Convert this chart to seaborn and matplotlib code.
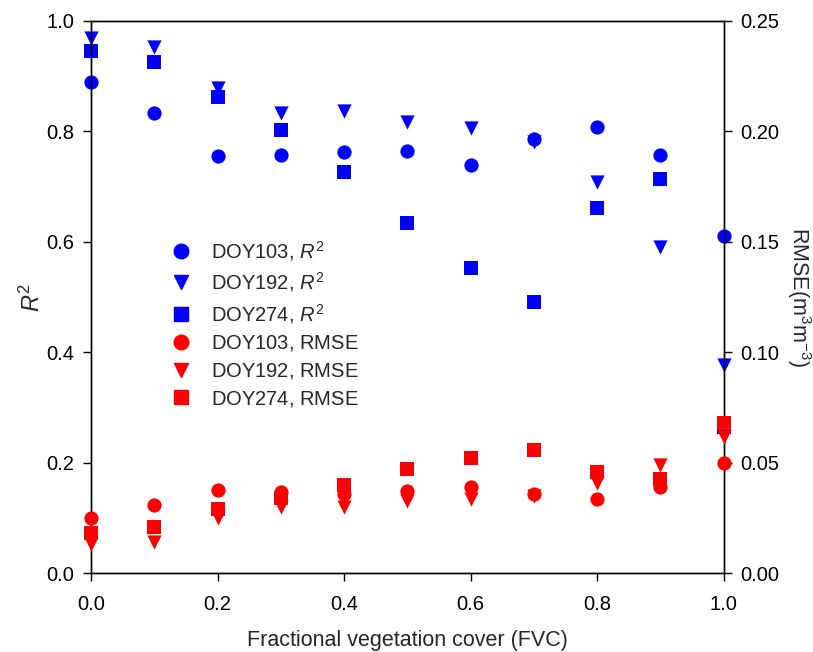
import matplotlib
matplotlib.use("Agg")
import matplotlib.pyplot as plt
import seaborn as sns
import pandas as pd
from matplotlib.lines import Line2D

fvc = [0.0, 0.1, 0.2, 0.3, 0.4, 0.5, 0.6, 0.7, 0.8, 0.9, 1.0]

r2_doy103 = [0.889, 0.833, 0.755, 0.757, 0.763, 0.764, 0.739, 0.786, 0.808, 0.757, 0.610]
r2_doy192 = [0.969, 0.953, 0.879, 0.833, 0.837, 0.817, 0.806, 0.781, 0.708, 0.591, 0.377]
r2_doy274 = [0.946, 0.926, 0.862, 0.803, 0.726, 0.634, 0.553, 0.491, 0.661, 0.714, 0.265]

rmse_doy103 = [0.025, 0.031, 0.0376, 0.0367, 0.036, 0.037, 0.039, 0.0358, 0.0335, 0.039, 0.050]
rmse_doy192 = [0.013, 0.014, 0.025, 0.030, 0.030, 0.0326, 0.0335, 0.035, 0.041, 0.049, 0.0616]
rmse_doy274 = [0.018, 0.021, 0.029, 0.034, 0.040, 0.047, 0.052, 0.0557, 0.0457, 0.0425, 0.068]

x_ticks = [0.0, 0.2, 0.4, 0.6, 0.8, 1.0]
y_left_ticks = [0.0, 0.2, 0.4, 0.6, 0.8, 1.0]
y_right_ticks = [0.00, 0.05, 0.10, 0.15, 0.20, 0.25]

sns.set_style("ticks")
plt.rcParams['font.family'] = ['Liberation Sans', 'DejaVu Sans']
plt.rcParams['mathtext.fontset'] = 'custom'
plt.rcParams['mathtext.rm'] = 'Liberation Sans'
plt.rcParams['mathtext.it'] = 'Liberation Sans:italic'

fig = plt.figure(figsize=(8.13, 6.52), dpi=100)
ax = fig.add_axes([0.112, 0.121, 0.778, 0.847])
ax2 = ax.twinx()

BLUE = '#0000ff'
RED = '#ff0000'
ms = 105
markers = {'DOY103': 'o', 'DOY192': 'v', 'DOY274': 's'}

df_r2 = pd.DataFrame({'FVC': fvc * 3,
                      'val': r2_doy103 + r2_doy192 + r2_doy274,
                      'DOY': ['DOY103'] * 11 + ['DOY192'] * 11 + ['DOY274'] * 11})
df_rmse = pd.DataFrame({'FVC': fvc * 3,
                        'val': rmse_doy103 + rmse_doy192 + rmse_doy274,
                        'DOY': ['DOY103'] * 11 + ['DOY192'] * 11 + ['DOY274'] * 11})

for doy, m in markers.items():
    sub = df_r2[df_r2['DOY'] == doy]
    sns.scatterplot(data=sub, x='FVC', y='val', ax=ax, marker=m, color=BLUE,
                    s=ms, edgecolor=BLUE, linewidth=0, clip_on=False, legend=False, zorder=3)
for doy, m in markers.items():
    sub = df_rmse[df_rmse['DOY'] == doy]
    sns.scatterplot(data=sub, x='FVC', y='val', ax=ax2, marker=m, color=RED,
                    s=ms, edgecolor=RED, linewidth=0, clip_on=False, legend=False, zorder=3)

ax.set_xlim(0, 1.0)
ax.set_ylim(0, 1.0)
ax2.set_ylim(0, 0.25)
ax.set_xticks(x_ticks)
ax.set_xticklabels([f"{v:.1f}" for v in x_ticks])
ax.set_yticks(y_left_ticks)
ax.set_yticklabels([f"{v:.1f}" for v in y_left_ticks])
ax2.set_yticks(y_right_ticks)
ax2.set_yticklabels([f"{v:.2f}" for v in y_right_ticks])

for a in (ax, ax2):
    a.tick_params(direction='out', length=6, width=1, labelsize=14.5, colors='black')
    for sp in a.spines.values():
        sp.set_visible(True)
        sp.set_linewidth(1)
        sp.set_color('black')
ax.tick_params(axis='x', pad=10)
ax.tick_params(axis='y', pad=6)
ax2.tick_params(axis='y', pad=6)

ax.set_xlabel("Fractional vegetation cover (FVC)", fontsize=15.5, labelpad=11)
ax.set_ylabel("$R^2$", fontsize=17, labelpad=1)
ax2.set_ylabel("RMSE(m$^3$m$^{-3}$)", fontsize=15.5, rotation=270, labelpad=24)

handles = []
labels = []
for doy, m in markers.items():
    handles.append(Line2D([], [], linestyle='none', marker=m, color=BLUE, markersize=10.5))
    labels.append(f"{doy}, $R^2$")
for doy, m in markers.items():
    handles.append(Line2D([], [], linestyle='none', marker=m, color=RED, markersize=10.5))
    labels.append(f"{doy}, RMSE$^{{\\ }}$")
ax2.legend(handles, labels, loc='upper left', bbox_to_anchor=(0.11, 0.62),
           frameon=False, fontsize=14.5, handletextpad=0.9, labelspacing=0.38,
           handlelength=1.2, borderaxespad=0)

fig.savefig("out.png", dpi=100)
